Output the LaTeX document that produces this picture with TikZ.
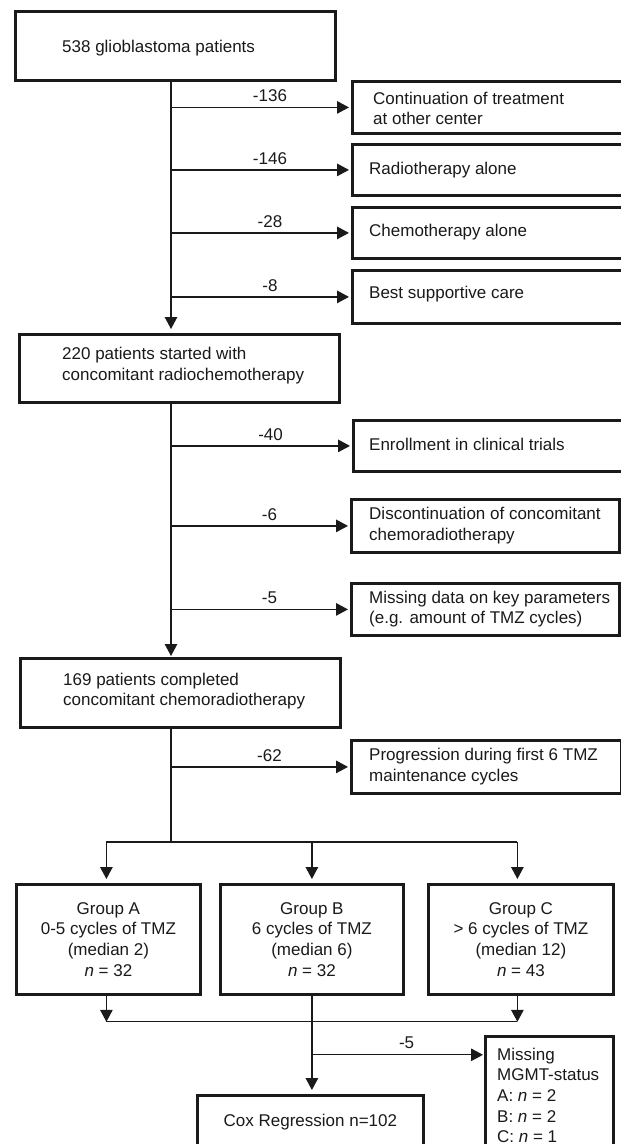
\documentclass[tikz,border=0pt]{standalone}
\usepackage{fontspec}
\setmainfont{Liberation Sans}
\usetikzlibrary{arrows.meta,calc}
\definecolor{ink}{HTML}{1A1A1A}
\begin{document}
\begin{tikzpicture}[x=1pt,y=-1pt,
  font=\fontsize{17}{20.6}\selectfont,
  box/.style={draw=ink, line width=2.8pt, rectangle, inner sep=0pt, anchor=north west, text=ink},
  txt/.style={anchor=west, align=left, inner sep=0pt, text=ink},
  conn/.style={draw=ink, line width=1.35pt},
  arr/.style={conn, -{Triangle[length=12pt,width=12.5pt]}, shorten >=3pt},
  lab/.style={pos=0.55, anchor=south, inner sep=0pt, yshift=5pt, text=ink}]
\fill[white] (0,0) rectangle (621,1144);
\useasboundingbox (0,0) rectangle (621,1144);
\clip (0,0) rectangle (621,1144);

% spine reference
\coordinate (sx) at (171,0);

% main boxes
\node[box, minimum width=320pt, minimum height=69pt] (b1) at (14,10) {};
\node[txt] (t1) at ($(b1.west)+(48,2.5)$) {538 glioblastoma patients};
\node[box, minimum width=320pt, minimum height=68pt] (b2) at (18,333) {};
\node[txt] (t2) at ($(b2.west)+(44,-3)$) {220 patients started with\\concomitant radiochemotherapy};
\node[box, minimum width=320pt, minimum height=69pt] (b3) at (19,657) {};
\node[txt] (t3) at ($(b3.west)+(44,-2)$) {169 patients completed\\concomitant chemoradiotherapy};

% right boxes
\node[box, minimum width=270.5pt, minimum height=52pt] (r1) at (351,80) {};
\node[txt] (tr1) at ($(r1.west)+(22,1)$) {Continuation of treatment\\at other center};
\node[box, minimum width=270.5pt, minimum height=51pt] (r2) at (351,143) {};
\node[txt] (tr2) at ($(r2.west)+(18,0.5)$) {Radiotherapy alone};
\node[box, minimum width=270.5pt, minimum height=51pt] (r3) at (351,206) {};
\node[txt] (tr3) at ($(r3.west)+(18,-0.5)$) {Chemotherapy alone};
\node[box, minimum width=270.5pt, minimum height=53pt] (r4) at (351,269) {};
\node[txt] (tr4) at ($(r4.west)+(18,-3)$) {Best supportive care};
\node[box, minimum width=269.5pt, minimum height=51pt] (r5) at (352,419) {};
\node[txt] (tr5) at ($(r5.west)+(17,-1)$) {Enrollment in clinical trials};
\node[box, minimum width=268pt, minimum height=53pt] (r6) at (350,498) {};
\node[txt] (tr6) at ($(r6.west)+(19,-0.5)$) {Discontinuation of concomitant\\chemoradiotherapy};
\node[box, minimum width=268pt, minimum height=52pt] (r7) at (350,582) {};
\node[txt] (tr7) at ($(r7.west)+(19,-0.5)$) {Missing data on key parameters\\(e.g. amount of TMZ cycles)};
\node[box, minimum width=270pt, minimum height=53pt] (r8) at (350,739) {};
\node[txt] (tr8) at ($(r8.west)+(19,-0.5)$) {Progression during first 6 TMZ\\maintenance cycles};

% group boxes
\node[box, minimum width=184pt, minimum height=110pt, align=center] (gA) at (15,883) {Group A\\0-5 cycles of TMZ\\(median 2)\\\textit{n} = 32};
\node[box, minimum width=183pt, minimum height=110pt, align=center] (gB) at (219,883) {Group B\\6 cycles of TMZ\\(median 6)\\\textit{n} = 32};
\node[box, minimum width=185pt, minimum height=110pt, align=center] (gC) at (427,883) {Group C\\> 6 cycles of TMZ\\(median 12)\\\textit{n} = 43};

% bottom boxes
\node[box, minimum width=226pt, minimum height=54pt] (cox) at (196,1094) {Cox Regression n=102};
\node[box, minimum width=128pt, minimum height=118pt] (miss) at (484,1035) {};
\node[txt] (tm) at ($(miss.west)+(13,0)$) {Missing\\MGMT-status\\A: \textit{n} = 2\\B: \textit{n} = 2\\C: \textit{n} = 1};

% spine 1
\draw[arr, shorten >=4pt] (b1.south -| sx) -- (b2.north -| sx);
\draw[arr, shorten >=2pt] (r1.west -| sx) -- (r1.west) node[lab] {-136};
\draw[arr, shorten >=2pt] (r2.west -| sx) -- (r2.west) node[lab] {-146};
\draw[arr, shorten >=2pt] (r3.west -| sx) -- (r3.west) node[lab] {-28};
\draw[arr, shorten >=2pt] (r4.west -| sx) -- (r4.west) node[lab] {-8};

% spine 2
\draw[arr, shorten >=1pt] (b2.south -| sx) -- (b3.north -| sx);
\draw[arr, shorten >=2pt] (r5.west -| sx) -- (r5.west) node[lab] {-40};
\draw[arr, shorten >=2pt] (r6.west -| sx) -- (r6.west) node[lab] {-6};
\draw[arr, shorten >=2pt] (r7.west -| sx) -- (r7.west) node[lab] {-5};

% spine 3
\coordinate (split) at (171,842);
\coordinate (ax) at ($(gA.north)+(-2,0)$);
\coordinate (cx) at ($(gC.north)+(-3.5,0)$);
\draw[conn] (b3.south -| sx) -- (split);
\draw[arr, shorten >=2pt] (r8.west -| sx) -- (r8.west) node[lab] {-62};
\draw[conn] (ax |- split) -- (cx |- split);
\draw[arr, shorten >=4pt] (ax |- split) -- (ax);
\draw[arr, shorten >=4pt] (gB.north |- split) -- (gB.north);
\draw[arr, shorten >=4pt] (cx |- split) -- (cx);

% merge
\path (gB.south) ++(0,26) coordinate (mg);
\path (gB.south) ++(0,59) coordinate (mb);
\draw[arr, shorten >=0pt] (ax |- gA.south) -- (ax |- mg);
\draw[arr, shorten >=0pt] (cx |- gC.south) -- (cx |- mg);
\draw[conn] (ax |- mg) -- (cx |- mg);
\draw[arr, shorten >=4pt] (gB.south) -- (gB.south |- cox.north);
\draw[arr, shorten >=1pt] (mb) -- (mb -| miss.west) node[lab] {-5};
\end{tikzpicture}
\end{document}
